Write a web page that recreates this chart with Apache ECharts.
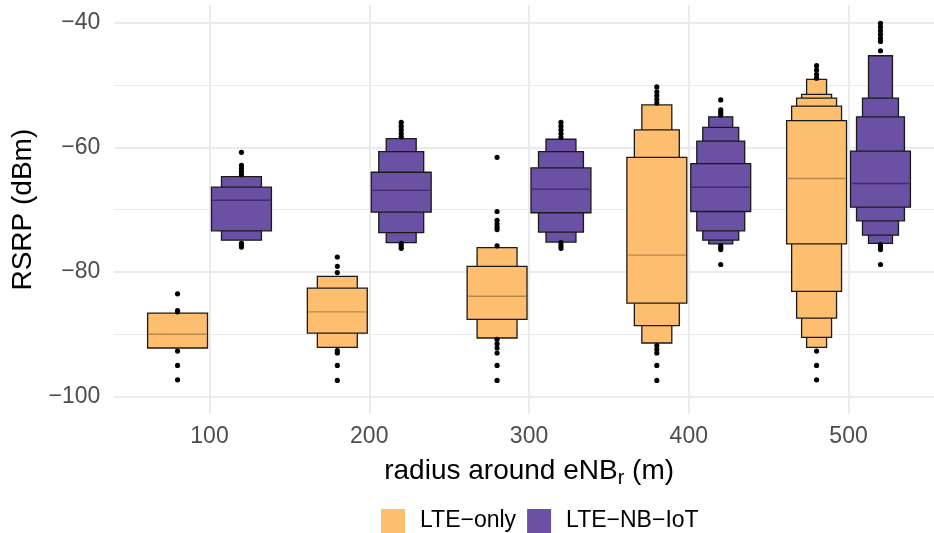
<!DOCTYPE html>
<html><head><meta charset="utf-8">
<script src="https://cdn.jsdelivr.net/npm/echarts@6/dist/echarts.min.js"></script>
<style>html,body{margin:0;padding:0;background:#fff}#c{width:934px;height:533px}</style>
</head><body><div id="c"></div>
<script>
// ---- data ----
const categories = [100, 200, 300, 400, 500];
const seriesNames = ['LTE\u2212only', 'LTE\u2212NB\u2212IoT'];
const yTicks = [-100, -80, -60, -40];
const yMinorTicks = [-90, -70, -50];

// LTE-only letter values (median, then upper/lower edges from innermost level outward)
const lteMedian = [-90.0, -86.4, -83.9, -77.3, -65.0];
const lteUpper = [[-86.6], [-82.6, -80.7], [-79.1, -76.1], [-61.6, -57.2, -53.2], [-55.7, -53.4, -52.1, -51.5, -49.1]];
const lteLower = [[-92.2], [-89.8, -92.1], [-87.6, -90.6], [-85.0, -88.6, -91.4], [-75.5, -83.1, -87.4, -90.5, -92.1]];
const lteOutliers = [
  [-83.5, -86.2, -86.4, -92.7, -95.0, -97.3],
  [-77.6, -79.1, -80.1, -92.6, -93.0, -95.0, -97.4],
  [-61.6, -70.3, -71.7, -72.3, -72.8, -73.2, -75.8, -90.8, -91.5, -92.2, -93.0, -95.0, -97.4],
  [-50.3, -51.1, -51.7, -52.3, -52.9, -91.8, -92.4, -93.0, -95.0, -97.4],
  [-46.9, -47.6, -48.3, -48.9, -92.7, -95.0, -97.3]
];

// LTE-NB-IoT letter values
const nbMedian = [-68.5, -66.9, -66.7, -66.4, -65.8];
const nbUpper = [[-66.4, -64.7], [-64.0, -60.7, -58.6], [-63.3, -60.7, -58.7], [-62.6, -59.0, -56.8, -55.1], [-60.6, -55.1, -52.1, -45.3]];
const nbLower = [[-73.4, -74.9], [-70.4, -73.7, -75.3], [-70.5, -73.6, -75.2], [-70.3, -73.4, -74.9, -75.5], [-69.6, -71.8, -74.1, -75.4]];
const nbOutliers = [
  [-60.8, -62.9, -63.4, -63.9, -64.4, -75.4, -75.7, -76.0],
  [-56.0, -56.6, -57.2, -57.8, -58.3, -75.4, -75.8, -76.2],
  [-56.0, -56.6, -57.2, -57.8, -58.4, -75.3, -75.8, -76.2],
  [-52.4, -54.0, -54.4, -54.8, -75.8, -76.1, -76.4, -78.8],
  [-40.1, -40.7, -41.3, -41.9, -42.5, -43.0, -44.5, -75.6, -76.0, -76.4, -78.8]
];

// ---- style / layout ----
const FONT = 'Liberation Sans, Arial, Helvetica, sans-serif';
const COLORS = ['#FDBF6F', '#6A51A3'];
const MEDIAN_COLORS = ['#B8864A', '#3E2A6E'];
const DODGE = 20;      // x offset of each group within a category
const BOX_W = 37.5;    // width of widest box in x units
const GRID_COLOR = '#EBEBEB';

function makeRender(med, up, lo, out, dodge, fill, medColor) {
  return function (params, api) {
    const i = params.dataIndex;
    const cat = categories[i];
    const cx = api.coord([cat + dodge, 0])[0];
    const fullW = api.size([BOX_W, 0])[0];
    const n = up[i].length;
    const children = [];
    for (let k = n - 1; k >= 0; k--) {
      const w = fullW * (1 - k / (n + 1));
      const yTop = api.coord([cat, up[i][k]])[1];
      const yBot = api.coord([cat, lo[i][k]])[1];
      children.push({
        type: 'rect',
        shape: { x: cx - w / 2, y: yTop, width: w, height: yBot - yTop },
        style: { fill: fill, stroke: '#1a1a1a', lineWidth: 1.3 }
      });
    }
    const ym = api.coord([cat, med[i]])[1];
    children.push({
      type: 'line',
      shape: { x1: cx - fullW / 2 + 1, y1: ym, x2: cx + fullW / 2 - 1, y2: ym },
      style: { stroke: medColor, lineWidth: 1.4 }
    });
    out[i].forEach(function (v) {
      const y = api.coord([cat, v])[1];
      children.push({ type: 'circle', shape: { cx: cx, cy: y, r: 2.6 }, style: { fill: '#000' } });
    });
    return { type: 'group', children: children };
  };
}

const gridLines = [];
yTicks.forEach(v => gridLines.push({ yAxis: v, lineStyle: { width: 2 } }));
yMinorTicks.forEach(v => gridLines.push({ yAxis: v, lineStyle: { width: 1 } }));
categories.forEach(v => gridLines.push({ xAxis: v, lineStyle: { width: 2 } }));

const chart = echarts.init(document.getElementById('c'), null, { renderer: 'canvas' });
chart.setOption({
  animation: false,
  backgroundColor: '#fff',
  textStyle: { fontFamily: FONT },
  grid: { left: 114.3, right: 0, top: 5, bottom: 118.7, containLabel: false },
  xAxis: {
    type: 'value', min: 40.4, max: 553.5,
    axisLine: { show: false }, axisTick: { show: false }, splitLine: { show: false },
    axisLabel: { customValues: categories, margin: 11, fontSize: 23, color: '#4D4D4D', fontFamily: FONT },
    name: '{a|radius around eNB}{s|r}{a| (m)}',
    nameLocation: 'middle', nameGap: 40,
    nameTextStyle: {
      color: '#000', fontFamily: FONT, padding: [0, 0, 0, 10],
      rich: {
        a: { fontSize: 28, fontFamily: FONT, color: '#000' },
        s: { fontSize: 20, fontFamily: FONT, color: '#000', padding: [14, 0, 0, 0] }
      }
    }
  },
  yAxis: {
    type: 'value', min: -102.84, max: -37.16,
    axisLine: { show: false }, axisTick: { show: false }, splitLine: { show: false },
    axisLabel: {
      customValues: yTicks, margin: 14, fontSize: 23, color: '#4D4D4D', fontFamily: FONT,
      formatter: v => String(v).replace('-', '\u2212')
    },
    name: 'RSRP (dBm)', nameLocation: 'middle', nameGap: 74, nameRotate: 90,
    nameTextStyle: { fontSize: 28, color: '#000', fontFamily: FONT }
  },
  legend: {
    data: seriesNames, left: 381, top: 509, padding: 0, itemGap: 11,
    itemWidth: 24, itemHeight: 24, icon: 'rect',
    itemStyle: { borderWidth: 0 },
    textStyle: { fontSize: 23, color: '#000', fontFamily: FONT, padding: [0, 0, 0, 10] }
  },
  series: [
    {
      type: 'line', data: [], z: 0, silent: true,
      markLine: {
        z: 0, zlevel: 0,
        silent: true, symbol: 'none', animation: false,
        label: { show: false },
        lineStyle: { color: GRID_COLOR, type: 'solid' },
        data: gridLines
      }
    },
    {
      name: seriesNames[0], type: 'custom', z: 10,
      itemStyle: { color: COLORS[0] },
      encode: { x: 0, y: 1 },
      data: categories.map((c, i) => [c, lteMedian[i]]),
      renderItem: makeRender(lteMedian, lteUpper, lteLower, lteOutliers, -DODGE, COLORS[0], MEDIAN_COLORS[0])
    },
    {
      name: seriesNames[1], type: 'custom', z: 10,
      itemStyle: { color: COLORS[1] },
      encode: { x: 0, y: 1 },
      data: categories.map((c, i) => [c, nbMedian[i]]),
      renderItem: makeRender(nbMedian, nbUpper, nbLower, nbOutliers, DODGE, COLORS[1], MEDIAN_COLORS[1])
    }
  ]
});
</script>
</body></html>
